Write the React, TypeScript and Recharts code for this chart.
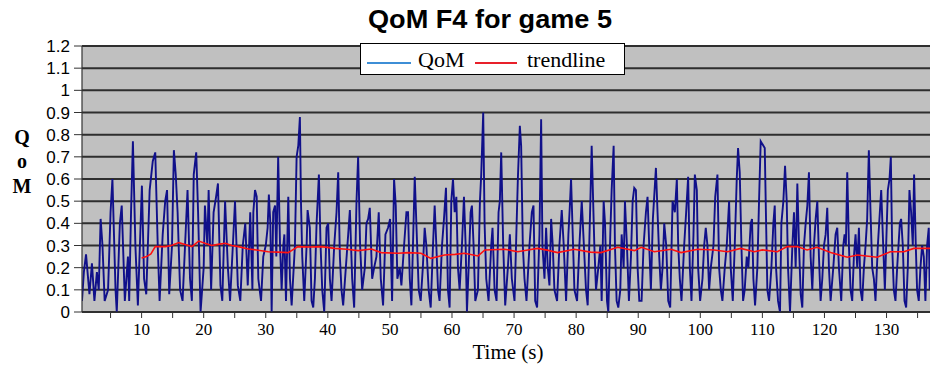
import React from "react";
import { LineChart, Line, XAxis, YAxis, CartesianGrid } from "recharts";

// QoM readings: [time (s), QoM]
const qomReadings: [number, number][] = [
  [0.4, 0.05], [0.7, 0.18], [1.05, 0.26], [1.6, 0.08], [2.0, 0.22], [2.4, 0.05], [2.8, 0.18], [3.1, 0.1],
  [3.4, 0.42], [3.7, 0.3], [4.05, 0.05], [4.6, 0.1], [5.0, 0.45], [5.3, 0.6], [5.8, 0.1], [6.0, 0],
  [6.5, 0.4], [6.8, 0.48], [7.3, 0.05], [7.8, 0.25], [8.0, 0.05], [8.3, 0.45], [8.6, 0.77], [9.0, 0.3],
  [9.4, 0.03], [10.05, 0.57], [10.4, 0.15], [10.75, 0.08], [11.3, 0.55], [11.8, 0.68], [12.2, 0.72], [12.6, 0.3],
  [12.9, 0.05], [13.4, 0.35], [13.8, 0.5], [14.1, 0.55], [14.45, 0.08], [14.9, 0.3], [15.2, 0.73], [15.5, 0.62],
  [15.8, 0.45], [16.2, 0.1], [16.6, 0.05], [17.0, 0.3], [17.4, 0.55], [17.8, 0.15], [18.1, 0.05], [18.4, 0.62],
  [18.8, 0.72], [19.1, 0.45], [19.5, 0], [20.0, 0.2], [20.2, 0.48], [20.6, 0.3], [20.8, 0.55], [21.2, 0.1],
  [21.6, 0.45], [22.0, 0.52], [22.3, 0.58], [22.7, 0.12], [23.0, 0.05], [23.45, 0.5], [23.9, 0.2], [24.25, 0.05],
  [24.7, 0.3], [25.05, 0.5], [25.5, 0.12], [25.9, 0.05], [26.3, 0.3], [26.7, 0.4], [27.1, 0.12], [27.5, 0.45],
  [27.85, 0.1],
  [28.0, 0.45], [28.27, 0.55], [28.54, 0.52], [28.8, 0.15], [29.24, 0.05], [29.6, 0.25], [30.0, 0.3], [30.3, 0.38],
  [30.5, 0.53], [30.74, 0.4], [30.95, 0], [31.2, 0.45], [31.5, 0.48], [31.7, 0.25], [32.0, 0.7], [32.3, 0.3],
  [32.56, 0.1], [32.83, 0.3], [33.0, 0.35], [33.26, 0.05], [33.63, 0.52], [33.9, 0.15], [34.17, 0.03], [34.7, 0.3],
  [34.97, 0.7], [35.24, 0.75], [35.5, 0.88], [35.67, 0.5], [35.88, 0.25], [36.2, 0.05], [36.58, 0.3], [36.74, 0.46],
  [37.1, 0.38], [37.38, 0.05], [37.65, 0.02], [37.92, 0.15], [38.19, 0.4], [38.56, 0.62], [38.83, 0.3], [39.1, 0.1],
  [39.42, 0], [39.79, 0.38], [40.06, 0.4], [40.33, 0.15], [40.6, 0.05], [41.03, 0.3], [41.4, 0.45], [41.67, 0.63],
  [41.94, 0.25], [42.2, 0.1], [42.47, 0.03], [42.9, 0.2], [43.28, 0.35], [43.55, 0.46], [43.92, 0.15], [44.24, 0.02],
  [44.62, 0.5], [44.88, 0.7], [45.2, 0.3], [45.53, 0.1], [45.96, 0.2], [46.22, 0.4], [46.49, 0.42], [46.76, 0.47],
  [47.14, 0.15], [47.46, 0.2], [47.83, 0.25], [48.2, 0.45], [48.53, 0.15], [48.9, 0.03], [49.28, 0.35], [49.7, 0.38],
  [50.03, 0.42], [50.35, 0.05], [50.67, 0.6], [50.94, 0.48], [51.2, 0.15], [51.58, 0.2], [51.85, 0.12], [52.28, 0.3],
  [52.66, 0.45], [52.92, 0.45], [53.2, 0.15], [53.46, 0.03], [54.0, 0.61], [54.26, 0.4], [54.64, 0.1], [54.96, 0.05],
  [55.3, 0.2],
  [55.6, 0.38], [55.87, 0.3], [56.24, 0.1], [56.57, 0.02], [56.94, 0.3], [57.21, 0.48], [57.48, 0.3], [57.75, 0.1],
  [58.0, 0.05], [58.39, 0.3], [58.71, 0.42], [59.03, 0.56], [59.35, 0.1], [59.62, 0.02], [59.89, 0.5], [60.16, 0.6],
  [60.43, 0.45], [60.7, 0.52], [60.96, 0.2], [61.23, 0.1], [61.6, 0.3], [61.93, 0.52], [62.2, 0.3], [62.41, 0],
  [62.68, 0.2], [63.0, 0.45], [63.21, 0.48], [63.48, 0.3], [63.75, 0.05], [64.18, 0.1], [64.5, 0.5], [64.71, 0.62],
  [65.03, 0.9], [65.25, 0.4], [65.52, 0.15], [65.89, 0.05], [66.32, 0.3], [66.53, 0.38], [66.86, 0.1], [67.18, 0.05],
  [67.5, 0.45], [67.71, 0.5], [67.93, 0.72], [68.25, 0.3], [68.57, 0.03], [69.0, 0.2], [69.32, 0.35], [69.64, 0.15],
  [70.07, 0.05], [70.61, 0.6], [70.93, 0.84], [71.14, 0.75], [71.41, 0.3], [71.68, 0.15], [72.0, 0.05], [72.48, 0.3],
  [72.86, 0.45], [73.13, 0.48], [73.4, 0.05], [73.71, 0.02], [74.09, 0.35], [74.36, 0.87], [74.57, 0.3], [74.9, 0.15],
  [75.16, 0.38], [75.43, 0.2], [75.7, 0.12], [75.97, 0.42], [76.23, 0.3], [76.5, 0.1], [76.93, 0.05], [77.3, 0.3],
  [77.68, 0.46], [78.0, 0.3], [78.38, 0.05], [78.75, 0.35], [78.97, 0.47], [79.18, 0.6], [79.45, 0.35], [79.72, 0.1],
  [80.15, 0.05], [80.52, 0.3], [80.9, 0.5], [81.16, 0.35], [81.59, 0.1], [81.86, 0.03], [82.29, 0.5], [82.5, 0.75],
  [82.93, 0.3], [83.2, 0.1], [83.57, 0.2], [83.9, 0.3], [84.11, 0.05], [84.43, 0.5], [84.65, 0.4], [84.97, 0.05],
  [85.18, 0], [85.5, 0.35], [85.72, 0.55], [86.04, 0.75], [86.25, 0.3], [86.52, 0.05], [86.79, 0.02], [87.11, 0.1],
  [87.33, 0.35], [87.65, 0.2], [87.86, 0.5], [88.18, 0.3], [88.5, 0.05], [88.83, 0.25], [89.1, 0.5], [89.36, 0.56],
  [89.63, 0.55], [89.9, 0.2], [90.17, 0.05], [90.54, 0.05], [90.86, 0.3], [91.24, 0.45], [91.5, 0.52], [91.77, 0.3],
  [92.04, 0.1], [92.36, 0.42], [92.85, 0.65], [93.11, 0.45], [93.38, 0.25], [93.65, 0.1], [93.92, 0.2], [94.19, 0.4],
  [94.51, 0.3], [94.83, 0.05], [95.15, 0.02], [95.53, 0.5], [95.9, 0.45], [96.22, 0.6], [96.44, 0.3], [96.7, 0.15],
  [96.97, 0.05], [97.4, 0.3], [97.72, 0.45], [98.04, 0.61], [98.31, 0.2], [98.58, 0.05], [98.9, 0.35], [99.12, 0.62],
  [99.44, 0.55], [99.65, 0.2], [99.97, 0.05], [100.35, 0.15], [100.62, 0.3], [100.88, 0.38], [101.15, 0.3], [101.42, 0.1],
  [101.69, 0.2], [102.12, 0.3], [102.4, 0.52], [102.76, 0.62], [103.03, 0.2], [103.3, 0.1], [103.56, 0.05], [103.94, 0.2],
  [104.26, 0.3], [104.64, 0.5], [104.9, 0.2], [105.23, 0.05], [105.55, 0.3], [105.87, 0.6], [106.08, 0.74], [106.35, 0.63],
  [106.62, 0.3], [106.89, 0.05], [107.15, 0.1], [107.48, 0.25], [107.74, 0.2], [108.12, 0.4], [108.33, 0.42], [108.55, 0.15],
  [108.82, 0.03], [109.19, 0.2], [109.46, 0.5], [109.73, 0.77],
  [110.38, 0.74], [110.6, 0.4], [110.8, 0.1], [111.08, 0.05], [111.45, 0.2], [111.77, 0.4], [111.99, 0.48], [112.2, 0.2],
  [112.52, 0.05], [112.84, 0], [113.06, 0.4], [113.38, 0.5], [113.65, 0.66], [113.92, 0.5], [114.13, 0.2], [114.45, 0],
  [114.83, 0.3], [115.09, 0.45], [115.36, 0.2], [115.63, 0.58], [115.9, 0.3], [116.17, 0.08], [116.43, 0.02], [116.7, 0.3],
  [116.97, 0.4], [117.24, 0.48], [117.5, 0.63], [117.77, 0.25], [118.04, 0.1], [118.31, 0.3], [118.58, 0.42], [118.85, 0.5],
  [119.11, 0.25], [119.38, 0.05], [119.65, 0.15], [119.92, 0.3], [120.19, 0.35], [120.45, 0.47], [120.72, 0.2], [120.99, 0.05],
  [121.42, 0.2], [121.79, 0.35], [122.06, 0.38], [122.33, 0.2], [122.7, 0.05], [123.03, 0.3], [123.24, 0.35], [123.45, 0.3],
  [123.67, 0.63], [123.94, 0.3], [124.2, 0.1], [124.47, 0.05], [124.74, 0.25], [125.01, 0.35], [125.28, 0.2], [125.55, 0.38],
  [125.81, 0.1], [126.08, 0.05], [126.35, 0.2], [126.62, 0.3], [126.88, 0.42], [127.15, 0.73], [127.42, 0.45], [127.69, 0.2],
  [127.96, 0.15], [128.22, 0.05], [128.6, 0.3], [128.92, 0.45], [129.14, 0.55], [129.46, 0.3], [129.73, 0.1], [129.99, 0.35],
  [130.21, 0.55], [130.48, 0.6], [130.69, 0.7], [130.9, 0.3], [131.17, 0.1], [131.44, 0.05], [131.71, 0.2], [132.14, 0.4],
  [132.35, 0.42], [132.62, 0.3], [132.89, 0.05], [133.16, 0.02], [133.42, 0.2], [133.69, 0.55], [133.96, 0.45], [134.23, 0.3],
  [134.44, 0.62], [134.71, 0.3], [134.92, 0.1], [135.19, 0.05], [135.46, 0.2], [135.73, 0.3], [136.0, 0.25], [136.26, 0.05],
  [136.53, 0.3], [136.8, 0.38], [136.95, 0.1],
];

// Trendline readings: [time (s), value]
const trendReadings: [number, number][] = [
  [10, 0.244], [10.8, 0.25], [11.5, 0.262], [12.2, 0.295], [13.8, 0.295], [14.8, 0.3], [16, 0.313], [17, 0.305],
  [18.1, 0.295], [19.2, 0.32], [20.2, 0.31], [21.3, 0.3], [22.3, 0.305], [23.5, 0.31], [24.5, 0.3], [25.6, 0.295],
  [27.2, 0.284], [28.5, 0.28], [30.4, 0.272], [32, 0.27], [33.6, 0.268], [35.2, 0.295], [37, 0.293], [39, 0.295],
  [41.1, 0.287], [43, 0.283], [44.9, 0.277], [47, 0.284], [48.6, 0.268], [51.3, 0.265], [53, 0.268], [55, 0.265],
  [56.6, 0.242], [58.8, 0.257], [60.5, 0.26], [62, 0.265], [64.2, 0.253], [65.3, 0.28], [68.5, 0.283], [70.6, 0.272],
  [72.2, 0.28], [73.8, 0.287], [75.5, 0.278], [77, 0.268], [79.7, 0.283], [82.3, 0.27], [84, 0.268], [86.7, 0.292],
  [89.4, 0.277], [90.5, 0.292], [92.6, 0.272], [95.3, 0.283], [96.9, 0.268], [99.6, 0.283], [102.2, 0.28], [104.4, 0.272],
  [106.5, 0.287], [108.7, 0.272], [110, 0.28], [112.4, 0.272], [114, 0.295], [115.6, 0.295], [117.2, 0.28], [118.8, 0.292],
  [121, 0.268], [123.7, 0.247], [125.3, 0.257], [128.5, 0.247], [130.6, 0.272], [132.8, 0.272], [134.4, 0.287], [137, 0.287],
];

const yTicks = [0, 0.1, 0.2, 0.3, 0.4, 0.5, 0.6, 0.7, 0.8, 0.9, 1, 1.1, 1.2];
const xTicks = [5, 10, 15, 20, 25, 30, 35, 40, 45, 50, 55, 60, 65, 70, 75, 80, 85, 90, 95, 100, 105, 110, 115, 120, 125, 130, 135];
const xLabeled = [10, 20, 30, 40, 50, 60, 70, 80, 90, 100, 110, 120, 130];

const qomData = qomReadings.map(([t, v]) => ({ t, v }));
const trendData = trendReadings.map(([t, v]) => ({ t, v }));

const serif = "'Liberation Serif', 'Times New Roman', serif";
const sans = "'Liberation Sans', Arial, sans-serif";

export default function App() {
  return (
    <div style={{ position: "absolute", left: 0, top: 0, width: 932, height: 374, background: "#fff" }}>
      <LineChart width={932} height={374} margin={{ top: 46, right: 2, bottom: 0, left: 0 }}>
        <CartesianGrid vertical={false} stroke="#2e2e2e" strokeWidth={2} fill="#c0c0c0" />
        <XAxis
          type="number"
          dataKey="t"
          domain={[0.4, 137]}
          allowDataOverflow
          ticks={xTicks}
          tickFormatter={(v: number) => (xLabeled.includes(v) ? String(v) : "")}
          height={62}
          tickSize={6}
          tickMargin={5}
          axisLine={{ stroke: "#333", strokeWidth: 1.2 }}
          tickLine={{ stroke: "#333" }}
          tick={{ fontFamily: serif, fontSize: 17, fill: "#000" }}
        />
        <YAxis
          type="number"
          domain={[0, 1.2]}
          ticks={yTicks}
          width={82}
          tickSize={8}
          tickMargin={4}
          interval={0}
          axisLine={{ stroke: "#333", strokeWidth: 1.2 }}
          tickLine={{ stroke: "#333" }}
          tick={{ fontFamily: sans, fontSize: 17, fill: "#000" }}
        />
        <Line
          data={qomData}
          dataKey="v"
          type="linear"
          stroke="#10108a"
          strokeWidth={1.9}
          dot={false}
          isAnimationActive={false}
        />
        <Line
          data={trendData}
          dataKey="v"
          type="linear"
          stroke="#ff1010"
          strokeWidth={1.6}
          dot={false}
          isAnimationActive={false}
        />
      </LineChart>
      <svg
        width={932}
        height={374}
        style={{ position: "absolute", left: 0, top: 0, pointerEvents: "none" }}
      >
        <text x={490} y={28} textAnchor="middle" fontFamily={sans} fontWeight="bold" fontSize={26} textLength={244} lengthAdjust="spacingAndGlyphs" fill="#000">
          QoM F4 for game 5
        </text>
        <text x={22} y={144} textAnchor="middle" fontFamily={serif} fontWeight="bold" fontSize={20} fill="#000">Q</text>
        <text x={22} y={168} textAnchor="middle" fontFamily={serif} fontWeight="bold" fontSize={20} fill="#000">o</text>
        <text x={22} y={193} textAnchor="middle" fontFamily={serif} fontWeight="bold" fontSize={20} fill="#000">M</text>
        <text x={508} y={359} textAnchor="middle" fontFamily={serif} fontSize={21} fill="#000">Time (s)</text>
        <rect x={360.5} y={43.5} width={264} height={31} fill="#fff" stroke="#000" strokeWidth={1} />
        <line x1={367} y1={63} x2={411} y2={63} stroke="#3d8ed6" strokeWidth={2} />
        <text x={418} y={67} fontFamily={serif} fontSize={22} fill="#000">QoM</text>
        <line x1={475} y1={63} x2={517} y2={63} stroke="#e8202a" strokeWidth={2} />
        <text x={527} y={67} fontFamily={serif} fontSize={22} fill="#000">trendline</text>
      </svg>
    </div>
  );
}
